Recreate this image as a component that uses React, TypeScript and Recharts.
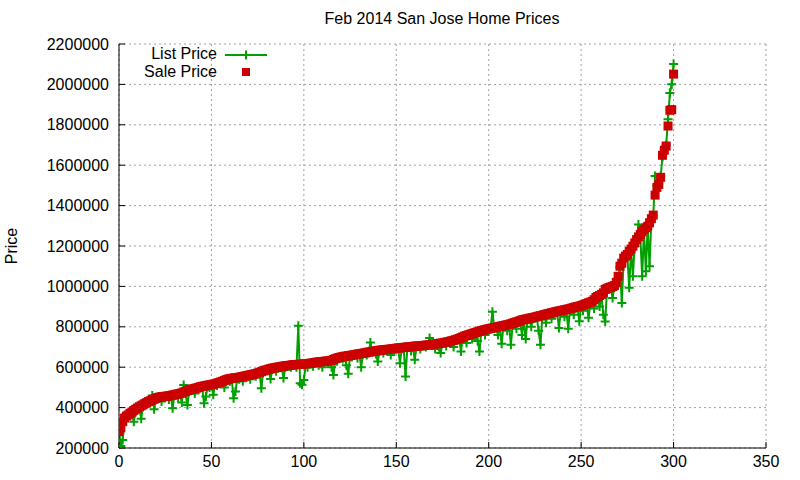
import React from 'react';
import { ComposedChart, Line, Scatter, XAxis, YAxis, CartesianGrid } from 'recharts';

// sale prices, sorted ascending (index 0..300)
const salePrices = [
  281000, 300000, 330000, 348000, 358000, 364000, 372000, 378000, 386000, 392000,
  398000, 404000, 409000, 414000, 420000, 425000, 430000, 434000, 439000, 442000,
  446000, 450000, 452000, 454000, 455000, 456000, 457000, 458000, 460000, 462000,
  464000, 466000, 468000, 470000, 473000, 477000, 480000, 484000, 487000, 490000,
  493000, 495000, 497000, 500000, 503000, 505000, 507000, 509000, 511000, 512000,
  514000, 516000, 518000, 521000, 524000, 527000, 530000, 534000, 538000, 541000,
  543000, 545000, 546000, 548000, 549000, 550000, 552000, 554000, 556000, 558000,
  560000, 562000, 564000, 566000, 568000, 571000, 574000, 578000, 582000, 585000,
  587000, 590000, 593000, 595000, 597000, 599000, 600000, 602000, 604000, 605000,
  607000, 608000, 609000, 610000, 612000, 613000, 613000, 614000, 615000, 615000,
  616000, 617000, 618000, 619000, 620000, 621000, 623000, 625000, 626000, 627000,
  628000, 629000, 630000, 631000, 632000, 634000, 638000, 642000, 645000, 648000,
  650000, 652000, 654000, 655000, 657000, 658000, 660000, 661000, 663000, 665000,
  666000, 668000, 669000, 671000, 673000, 675000, 676000, 678000, 679000, 681000,
  682000, 684000, 685000, 686000, 687000, 688000, 689000, 690000, 691000, 692000,
  694000, 695000, 696000, 697000, 698000, 699000, 700000, 701000, 702000, 703000,
  704000, 705000, 705000, 706000, 707000, 708000, 709000, 710000, 711000, 712000,
  714000, 715000, 716000, 717000, 719000, 720000, 722000, 724000, 726000, 728000,
  731000, 733000, 736000, 739000, 742000, 746000, 750000, 754000, 757000, 760000,
  763000, 766000, 769000, 772000, 775000, 778000, 781000, 783000, 786000, 788000,
  790000, 792000, 794000, 796000, 798000, 800000, 802000, 804000, 806000, 808000,
  810000, 812000, 815000, 818000, 821000, 824000, 827000, 830000, 834000, 836000,
  838000, 840000, 842000, 844000, 846000, 848000, 850000, 853000, 855000, 857000,
  860000, 862000, 865000, 867000, 869000, 871000, 874000, 876000, 878000, 880000,
  882000, 884000, 886000, 888000, 890000, 893000, 896000, 898000, 900000, 902000,
  905000, 908000, 911000, 915000, 919000, 922000, 926000, 934000, 945000, 950000,
  955000, 960000, 968000, 985000, 990000, 994000, 997000, 1000000, 1004000, 1020000,
  1050000, 1100000, 1115000, 1140000, 1150000, 1158000, 1174000, 1185000, 1199000, 1215000,
  1232000, 1245000, 1257000, 1270000, 1282000, 1290000, 1298000, 1315000, 1335000, 1353000,
  1452000, 1490000, 1505000, 1540000, 1649000, 1674000, 1695000, 1794000, 1872000, 1875000,
  2051000,
];

// list prices for the same homes
const listPrices = [
  285000, 210000, 240000, 335000, 355000, 360000, 368000, 372000, 330000, 380000,
  392000, 398000, 345000, 408000, 415000, 418000, 425000, 430000, 460000, 392000,
  440000, 444000, 448000, 430000, 452000, 450000, 455000, 440000, 455000, 397000,
  460000, 462000, 450000, 465000, 425000, 512000, 470000, 413000, 480000, 485000,
  488000, 470000, 495000, 490000, 498000, 500000, 422000, 455000, 505000, 500000,
  510000, 463000, 515000, 510000, 520000, 522000, 525000, 500000, 530000, 535000,
  530000, 540000, 446000, 480000, 545000, 540000, 548000, 530000, 550000, 552000,
  555000, 540000, 560000, 562000, 555000, 565000, 570000, 496000, 575000, 580000,
  582000, 585000, 541000, 590000, 592000, 580000, 595000, 598000, 600000, 546000,
  600000, 603000, 605000, 600000, 608000, 610000, 600000, 805000, 520000, 513000,
  537000, 612000, 600000, 615000, 616000, 605000, 620000, 622000, 610000, 625000,
  600000, 626000, 628000, 620000, 630000, 600000, 562000, 640000, 630000, 645000,
  648000, 640000, 650000, 610000, 567000, 655000, 650000, 658000, 660000, 645000,
  663000, 600000, 665000, 668000, 660000, 670000, 722000, 675000, 676000, 665000,
  628000, 680000, 682000, 670000, 684000, 685000, 686000, 660000, 688000, 690000,
  690000, 692000, 620000, 694000, 695000, 554000, 698000, 699000, 680000, 700000,
  637000, 702000, 703000, 690000, 705000, 706000, 700000, 708000, 744000, 710000,
  712000, 690000, 714000, 700000, 670000, 718000, 720000, 705000, 724000, 726000,
  728000, 700000, 732000, 735000, 738000, 678000, 748000, 750000, 720000, 758000,
  760000, 740000, 766000, 768000, 730000, 678000, 778000, 780000, 760000, 785000,
  788000, 790000, 875000, 792000, 795000, 760000, 800000, 716000, 802000, 805000,
  780000, 808000, 711000, 812000, 815000, 790000, 822000, 825000, 760000, 830000,
  740000, 835000, 838000, 800000, 840000, 842000, 845000, 780000, 711000, 850000,
  855000, 820000, 860000, 862000, 840000, 865000, 868000, 870000, 794000, 875000,
  878000, 850000, 880000, 790000, 885000, 888000, 860000, 892000, 895000, 828000,
  900000, 880000, 905000, 910000, 845000, 915000, 918000, 890000, 940000, 945000,
  900000, 955000, 860000, 826000, 980000, 985000, 990000, 943000, 995000, 1000000,
  1040000, 1095000, 918000, 1130000, 1145000, 1150000, 993000, 1180000, 1050000, 1210000,
  1225000, 1307000, 1250000, 1050000, 1275000, 1075000, 1295000, 1100000, 1330000, 1348000,
  1546000, 1500000, 1510000, 1545000, 1640000, 1680000, 1700000, 1828000, 1957000, 2001000,
  2101000,
];

const xTicks = [0, 50, 100, 150, 200, 250, 300, 350];
const yTicks = [200000, 400000, 600000, 800000, 1000000, 1200000, 1400000, 1600000, 1800000, 2000000, 2200000];

const GREEN = '#00a000';
const RED = '#cc0000';
const FONT = '"Liberation Sans", Arial, sans-serif';

const data = salePrices.map((sale, i) => ({ idx: i, sale, list: listPrices[i] }));

const PlusDot = (props: any) => {
  const { cx, cy, index } = props;
  if (cx == null || cy == null) return <g key={`p-${index}`} />;
  return (
    <path
      key={`p-${index}`}
      d={`M${cx - 4.5},${cy}h9M${cx},${cy - 4.5}v9`}
      stroke={GREEN}
      strokeWidth={2}
      fill="none"
    />
  );
};

const SquareDot = (props: any) => {
  const { cx, cy } = props;
  return <rect x={cx - 4.5} y={cy - 4.5} width={9} height={9} fill={RED} />;
};

const noLabel = () => <g />;

export default function App() {
  const tickStyle = { fill: '#000', fontSize: 16, fontFamily: FONT };
  return (
    <div style={{ position: 'absolute', left: 0, top: 0, width: 800, height: 480, background: '#fff', fontFamily: FONT }}>
      <div style={{ position: 'absolute', left: 0, width: 884, top: 10, textAlign: 'center', fontSize: 16 }}>
        Feb 2014 San Jose Home Prices
      </div>
      <div
        style={{
          position: 'absolute',
          left: 12,
          top: 246,
          fontSize: 16,
          transform: 'translate(-50%, -50%) rotate(-90deg)',
          whiteSpace: 'nowrap',
        }}
      >
        Price
      </div>
      <ComposedChart width={800} height={480} data={data} margin={{ top: 44, right: 34, bottom: 7, left: 9 }}>
        <CartesianGrid xAxisId="b" yAxisId="l" stroke="#a0a0a0" strokeDasharray="2 3" />
        <XAxis
          xAxisId="b"
          dataKey="idx"
          type="number"
          domain={[0, 350]}
          ticks={xTicks}
          height={25}
          tickSize={-6}
          tickMargin={14}
          tick={tickStyle}
          stroke="#000"
          axisLine={{ stroke: '#000' }}
          tickLine={{ stroke: '#000' }}
          allowDataOverflow
        />
        <XAxis
          xAxisId="t"
          orientation="top"
          type="number"
          domain={[0, 350]}
          ticks={xTicks}
          height={0}
          tickSize={-6}
          tick={noLabel}
          axisLine={{ stroke: '#000' }}
          tickLine={{ stroke: '#000' }}
        />
        <YAxis
          yAxisId="l"
          type="number"
          domain={[200000, 2200000]}
          ticks={yTicks}
          width={110}
          tickSize={-6}
          tickMargin={16}
          tick={tickStyle}
          axisLine={{ stroke: '#000' }}
          tickLine={{ stroke: '#000' }}
          allowDataOverflow
        />
        <YAxis
          yAxisId="r"
          orientation="right"
          type="number"
          domain={[200000, 2200000]}
          ticks={yTicks}
          width={0}
          tickSize={-6}
          tick={noLabel}
          axisLine={{ stroke: '#000' }}
          tickLine={{ stroke: '#000' }}
        />
        <Line
          xAxisId="b"
          yAxisId="l"
          dataKey="list"
          type="linear"
          stroke={GREEN}
          strokeWidth={2}
          dot={PlusDot}
          activeDot={false}
          isAnimationActive={false}
        />
        <Scatter
          xAxisId="b"
          yAxisId="l"
          dataKey="sale"
          shape={SquareDot}
          isAnimationActive={false}
        />
      </ComposedChart>
      <div style={{ position: 'absolute', left: 100, top: 45, width: 117, textAlign: 'right', fontSize: 16, lineHeight: '18px' }}>
        <div>List Price</div>
        <div>Sale Price</div>
      </div>
      <svg style={{ position: 'absolute', left: 220, top: 45 }} width={60} height={40}>
        <line x1={5} y1={10} x2={47} y2={10} stroke={GREEN} strokeWidth={2} />
        <path d="M26,5.5v9" stroke={GREEN} strokeWidth={2} />
        <rect x={22} y={23} width={8} height={8} fill={RED} />
      </svg>
    </div>
  );
}
